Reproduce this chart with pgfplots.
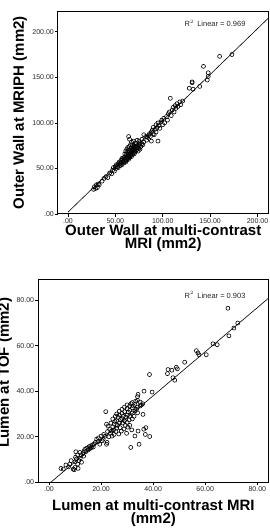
\documentclass[border=0pt]{standalone}
\usepackage{pgfplots}
\pgfplotsset{compat=1.18}
\usepackage{pgfplotstable}
\usepackage{fontspec}
\setmainfont{Liberation Sans}

\pgfplotstableread{
x y
27 27
28 30
29 28
30 32
31 29
32 33
33 32
36 36
38 39
40 41
42 40
44 45
46 44
47 48
48 51
49 47
50 52
51 50
51 54
52 52
53 55
53 51
54 57
55 53
55 56
56 55
56 59
57 54
57 61
58 57
58 60
59 56
59 62
60 58
60 61
60 66
61 57
61 60
61 64
61 69
62 59
62 62
62 66
62 71
63 61
63 64
63 68
63 73
64 60
64 63
64 66
64 70
64 85
65 62
65 65
65 68
65 74
65 82
66 64
66 67
66 70
66 76
67 63
67 66
67 69
67 72
67 79
68 65
68 68
68 71
68 75
69 67
69 70
69 73
69 80
70 66
70 69
70 72
70 75
71 68
71 71
71 74
71 78
72 70
72 73
72 77
73 71
73 75
73 81
74 69
74 73
75 72
75 76
75 80
76 71
76 78
77 74
78 77
78 82
79 76
80 79
80 87
82 85
83 81
84 84
85 86
86 88
87 85
88 80
88 90
89 92
90 88
90 95
91 87
92 93
93 90
93 98
94 95
95 80
95 100
96 97
97 94
98 101
99 103
100 98
101 105
102 100
104 107
105 103
106 110
107 112
108 127
109 108
110 114
111 117
112 112
113 119
114 116
115 121
116 118
118 123
119 120
121 124
128 138
131 145
131 144
132 137
139 140
143 162
147 147
148 151
148 155
160 173
173 175
}\walldata

\pgfplotstableread{
x y
4.6 6.1
5.5 5.8
6.5 7.6
7.5 6.8
8 8
8.5 9.5
9.3 5.8
9.7 5.5
10 6.5
10 9
10.2 11
10.3 13.4
10.5 10.2
11 12
11 8
11.2 6.1
11.5 9.5
11.9 13.1
12 10.5
12.3 12
12.5 8.8
13 12.5
13.3 11.5
13.5 13.8
13.8 14.5
14.2 13.5
14.5 15
15 14.2
15.3 15.6
15.7 14.8
16 16
16.3 15.2
16.7 16.4
17 15.5
17.3 16.8
17.8 17.5
18.3 18.9
18.8 17.8
19 19.5
19.5 16.7
20 20.3
20.4 18.2
20.8 18.9
21 21
21.5 20.2
21.8 31
22.1 16.7
22.1 25.5
22.3 17.5
22.5 22.3
22.7 24.7
23 20
23.3 23.2
23.6 21.5
23.8 26
24 22.5
24.2 20.3
24.5 24.4
24.5 27.8
24.8 23
25 21
25 25.6
25.3 26.7
25.5 29
25.7 22.3
26 23.8
26 27
26 30
26.3 25
26.5 28.5
26.8 21.2
27 26
27 29.5
27 31.2
27.3 24
27.5 27.5
27.8 22.5
28 28
28 30.3
28 32
28.3 26
28.5 29
28.8 23.4
29 27
29 31
29 33
29.3 25
29.5 28.6
29.8 21.5
30 26.3
30 29.5
30 32.3
30 34
30.3 24.2
30.5 30.8
30.8 27.4
31 25
31 29
31 31.6
31 33.5
31.4 15.3
31.5 34.5
31.8 23
32 27.8
32 30.4
32 32.7
32 35
32.4 33.5
32.7 29
33 20.3
33 31.3
33 34.2
33.3 35.6
33.6 32
34 30.5
34 33
34 36
34 37.6
34.2 22.5
34.2 38.6
34.6 16.7
35 33.5
35 35.2
35.5 34
36 34.5
36.1 29.8
36.4 23.3
36.5 40
37 21
37.2 24
38.6 47.3
38.7 20.1
39.6 39.6
45.5 47.7
45.7 49.5
47.2 49.2
47.6 45.9
48.3 44.8
48.9 50.5
49.3 49.8
52.1 52.7
56.6 57.8
57.2 56.8
57.6 56
60.4 56
63 60.8
64.6 60.4
68.7 76.4
69.1 64.3
71 67.7
72.5 69.9
}\lumendata

\begin{document}
\begin{tikzpicture}
\pgfplotsset{
  spss/.style={
    scale only axis, anchor=south west,
    axis line style={line width=1pt},
    tick align=outside, xtick pos=bottom, ytick pos=left,
    major tick length=3pt,
    tick style={line width=0.6pt, black},
    tick label style={font=\fontsize{7}{8}\selectfont, text=black!85},
    xticklabel style={inner sep=1pt},
    yticklabel style={inner sep=1pt},
    label style={font=\fontsize{15}{13}\selectfont\bfseries},
    xlabel style={align=center, anchor=north, inner sep=0pt},
    ylabel style={anchor=center, inner sep=0pt},
  },
  scat/.style={only marks, mark=o, mark size=2pt, mark options={line width=0.6pt, black}},
}
% top chart
\begin{axis}[spss,
  at={(58pt,317pt)}, width=210.5pt, height=202.3pt,
  xmin=-10.5, xmax=211.6, ymin=0, ymax=222,
  xtick={0,50,100,150,200}, xticklabels={.00,50.00,100.00,150.00,200.00},
  ytick={0,50,100,150,200}, yticklabels={.00,50.00,100.00,150.00,200.00},
  xlabel={Outer Wall at multi-contrast\\MRI (mm2)},
  ylabel={Outer Wall at MRIPH (mm2)},
  xlabel style={at={(axis description cs:0.5,-0.0494)}},
  ylabel style={at={(axis description cs:-0.1805,0.5)}},
]
\addplot[scat] table[x=x,y=y] {\walldata};
\addplot[black, line width=0.6pt] coordinates {(0,2) (211.6,215.1)};
\node[font=\fontsize{7.5}{8}\selectfont, text=black!85] at (rel axis cs:0.746,0.942) {R$^2$\, Linear = 0.969};
\end{axis}
% bottom chart
\begin{axis}[spss,
  at={(38.3pt,48.7pt)}, width=230.2pt, height=203pt,
  xmin=-4.1, xmax=84.3, ymin=0, ymax=89.1,
  xtick={0,20,40,60,80}, xticklabels={.00,20.00,40.00,60.00,80.00},
  ytick={0,20,40,60,80}, yticklabels={.00,20.00,40.00,60.00,80.00},
  xlabel={Lumen at multi-contrast MRI\\(mm2)},
  ylabel={Lumen at TOF (mm2)},
  xlabel style={at={(axis description cs:0.5,-0.0837)}},
  ylabel style={at={(axis description cs:-0.1447,0.54)}},
]
\addplot[scat] table[x=x,y=y] {\lumendata};
\addplot[black, line width=0.6pt] coordinates {(0.7,0) (84.3,80.8)};
\node[font=\fontsize{7.5}{8}\selectfont, text=black!85] at (rel axis cs:0.768,0.923) {R$^2$\, Linear = 0.903};
\end{axis}
\pgfresetboundingbox
\path[use as bounding box] (0pt,0pt) rectangle (269pt,531pt);
\end{tikzpicture}
\end{document}
